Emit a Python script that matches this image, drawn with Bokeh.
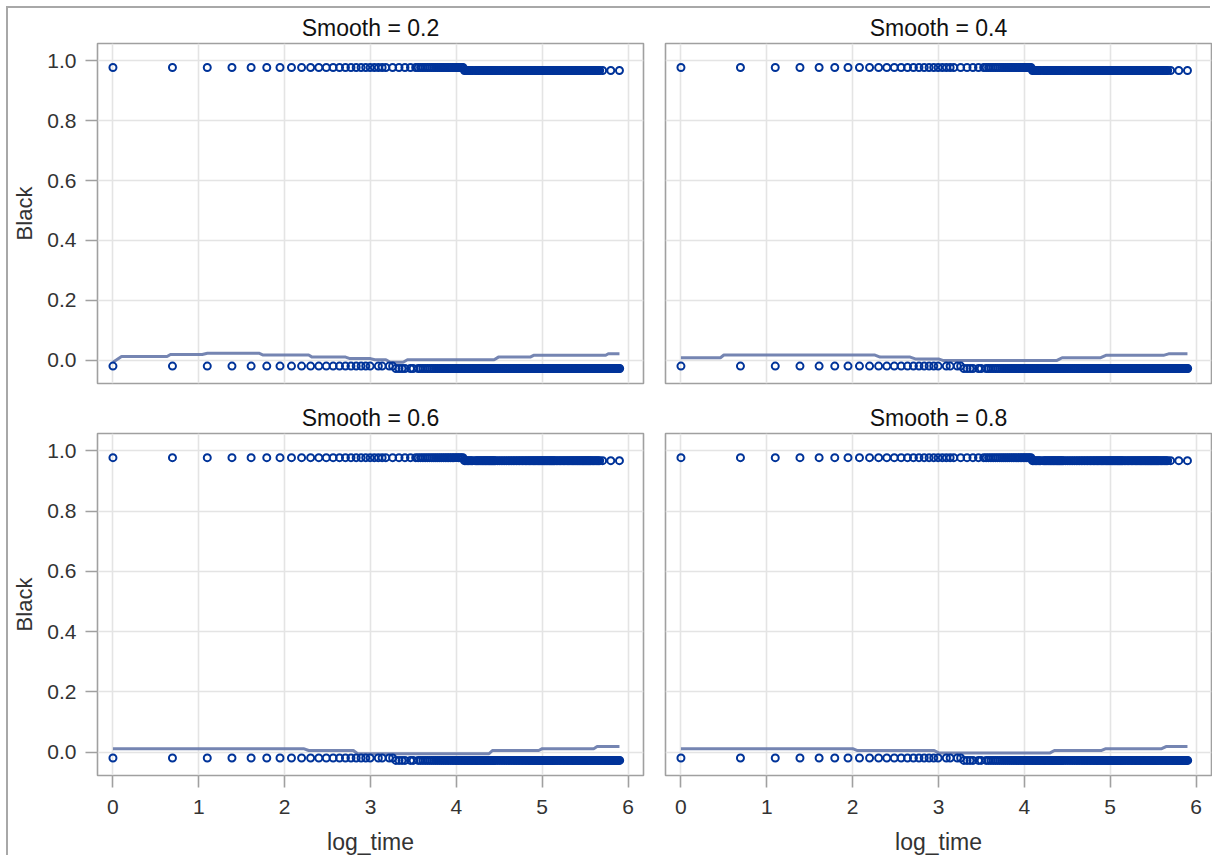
import numpy as np
from bokeh.plotting import figure
from bokeh.layouts import gridplot
from bokeh.models import FixedTicker, PrintfTickFormatter, Range1d
from bokeh.embed import file_html
from bokeh.resources import INLINE

# ---------------- data ----------------
# event days (x = log_time = log(day)); Black = 1 row and Black = 0 row
upper_early_days = [1, 2, 3, 4, 5, 6, 7, 8, 9, 10, 11, 12, 13, 14, 15, 16, 17, 18, 19, 20,
                    21, 22, 23, 24, 26, 28, 30, 32, 34, 35, 36, 37, 38, 39, 40, 41, 42, 43,
                    44, 45, 46, 47, 48, 49, 50, 51, 52, 53, 54, 55, 56, 57, 58, 59]
upper_early_y = 0.977
upper_late_days = [60, 61, 62, 63, 64, 65, 66, 68, 69, 70, 71, 72, 73, 74, 75, 76, 77, 78, 79,
                   80, 81, 82, 83, 84, 85, 86, 88, 90, 92, 94, 96, 98, 100, 102, 104, 106, 108,
                   110, 112, 114, 116, 118, 120, 122, 124, 126, 128, 130, 132, 134, 136, 138,
                   140, 142, 144, 146, 148, 150, 152, 154, 156, 158, 160, 162, 164, 166, 168,
                   170, 172, 175, 178, 181, 184, 187, 190, 193, 196, 199, 202, 205, 208, 211,
                   214, 217, 220, 223, 226, 229, 232, 235, 238, 241, 244, 247, 250, 253, 256,
                   259, 262, 266, 270, 274, 278, 282, 286, 290, 300, 330, 365]
upper_late_y = 0.967
lower_early_days = [1, 2, 3, 4, 5, 6, 7, 8, 9, 10, 11, 12, 13, 14, 15, 16, 17, 18, 19, 20,
                    22, 23, 25, 26]
lower_early_y = -0.019
lower_late_days = [27, 28, 29, 30, 32, 33, 35, 36, 37, 38, 39, 40, 41, 42, 43, 44, 45, 46, 47,
                   48, 49, 50, 51, 52, 53, 54, 55, 56, 57, 58, 59, 60, 61, 62, 63, 64, 65, 66,
                   67, 68, 69, 70, 71, 72, 73, 74, 75, 76, 77, 78, 79, 80, 81, 82, 83, 84, 85,
                   86, 88, 90, 92, 94, 96, 98, 100, 102, 104, 106, 108, 110, 112, 114, 116, 118,
                   120, 122, 124, 126, 128, 130, 132, 134, 136, 138, 140, 142, 144, 146, 148,
                   150, 152, 154, 156, 158, 160, 162, 164, 166, 168, 170, 172, 175, 178, 181,
                   184, 187, 190, 193, 196, 199, 202, 205, 208, 211, 214, 217, 220, 223, 226,
                   229, 232, 235, 238, 241, 244, 247, 250, 253, 256, 259, 262, 266, 270, 274,
                   278, 282, 286, 290, 294, 298, 302, 306, 310, 314, 318, 322, 326, 330, 334,
                   338, 342, 346, 350, 354, 358, 362, 366]
lower_late_y = -0.027

# loess fits for each smoothing parameter (log_time, fitted Black)
smooth_labels = ["Smooth = 0.2", "Smooth = 0.4", "Smooth = 0.6", "Smooth = 0.8"]
fit02_x = [0.00, 0.10, 0.63, 0.67, 1.04, 1.10, 1.70, 1.75, 2.28, 2.32, 2.71, 2.76, 3.00,
           3.05, 3.18, 3.23, 3.38, 3.43, 4.44, 4.49, 4.86, 4.90, 5.74, 5.77, 5.90]
fit02_y = [-0.006, 0.013, 0.013, 0.020, 0.020, 0.024, 0.024, 0.018, 0.018, 0.011, 0.011,
           0.006, 0.006, 0.002, 0.002, -0.006, -0.006, 0.002, 0.002, 0.011, 0.011, 0.017,
           0.017, 0.022, 0.022]
fit04_x = [0.00, 0.46, 0.50, 2.26, 2.32, 2.67, 2.73, 3.00, 3.05, 4.38, 4.44, 4.89, 4.95,
           5.62, 5.68, 5.90]
fit04_y = [0.009, 0.009, 0.018, 0.018, 0.011, 0.011, 0.005, 0.005, 0.000, 0.000, 0.009,
           0.009, 0.017, 0.017, 0.022, 0.022]
fit06_x = [0.00, 2.22, 2.28, 2.80, 2.85, 4.38, 4.42, 4.96, 5.00, 5.60, 5.64, 5.90]
fit06_y = [0.012, 0.012, 0.006, 0.006, -0.005, -0.005, 0.006, 0.006, 0.012, 0.012, 0.019,
           0.019]
fit08_x = [0.00, 2.00, 2.05, 2.95, 3.00, 4.30, 4.35, 4.90, 4.95, 5.60, 5.65, 5.90]
fit08_y = [0.012, 0.012, 0.006, 0.006, -0.002, -0.002, 0.006, 0.006, 0.012, 0.012, 0.019,
           0.019]

x_ticks = [0, 1, 2, 3, 4, 5, 6]
y_ticks = [0.0, 0.2, 0.4, 0.6, 0.8, 1.0]
y_label = "Black"
x_label = "log_time"

# ---------------- styling ----------------
FONT = "Liberation Sans"
MARK = "#003399"
FIT = "#6678aa"
GRID = "#e4e4e4"
FRAME = "#a0a0a0"
TEXT = "#333333"

pts_x = np.log(np.array(upper_early_days + upper_late_days + lower_early_days + lower_late_days, dtype=float))
pts_y = ([upper_early_y] * len(upper_early_days) + [upper_late_y] * len(upper_late_days)
         + [lower_early_y] * len(lower_early_days) + [lower_late_y] * len(lower_late_days))


def make_panel(title, fx, fy, show_y, show_x):
    p = figure(
        frame_width=546, frame_height=342 if show_x else 340,
        x_range=Range1d(-0.18, 6.18), y_range=Range1d(-0.077, 1.057),
        x_axis_location="below" if show_x else None,
        y_axis_location="left" if show_y else None,
        min_border_left=89 if show_y else 11,
        min_border_right=11 if show_y else 1,
        min_border_top=35, min_border_bottom=80 if show_x else 15,
        output_backend="svg", toolbar_location=None,
    )
    p.title.text = title
    p.title.align = "center"
    p.title.text_font = FONT
    p.title.text_font_size = "23px"
    p.title.text_font_style = "normal"
    p.title.text_color = "#111111"
    p.title.standoff = 5

    p.background_fill_color = "white"
    p.border_fill_color = "white"
    p.outline_line_color = FRAME
    p.outline_line_width = 1.6

    p.xgrid.ticker = FixedTicker(ticks=x_ticks)
    p.ygrid.ticker = FixedTicker(ticks=y_ticks)
    p.xgrid.grid_line_color = GRID
    p.ygrid.grid_line_color = GRID
    p.xgrid.grid_line_width = 1.6
    p.ygrid.grid_line_width = 1.6

    for ax in list(p.xaxis) + list(p.yaxis):
        ax.axis_line_color = None
        ax.major_tick_line_color = FRAME
        ax.major_tick_line_width = 1.6
        ax.major_tick_out = 12
        ax.major_tick_in = 0
        ax.minor_tick_line_color = None
        ax.major_label_text_font = FONT
        ax.major_label_text_font_size = "21px"
        ax.major_label_text_color = TEXT
        ax.axis_label_text_font = FONT
        ax.axis_label_text_font_size = "22px"
        ax.axis_label_text_font_style = "normal"
        ax.axis_label_text_color = TEXT
    if show_x:
        p.xaxis.ticker = FixedTicker(ticks=x_ticks)
        p.xaxis.axis_label = x_label
        p.xaxis.axis_label_text_font_size = "23px"
        p.xaxis.major_label_standoff = 12
        p.xaxis.axis_label_standoff = 12
    if show_y:
        p.yaxis.ticker = FixedTicker(ticks=y_ticks)
        p.yaxis.formatter = PrintfTickFormatter(format="%.1f")
        p.yaxis.axis_label = y_label
        p.yaxis.major_label_standoff = 9
        p.yaxis.axis_label_standoff = 7

    p.line(fx, fy, line_color=FIT, line_width=3, line_alpha=0.9)
    p.scatter(pts_x, pts_y, marker="circle", size=7, fill_color=None,
              line_color=MARK, line_width=2)
    return p


p1 = make_panel(smooth_labels[0], fit02_x, fit02_y, True, False)
p2 = make_panel(smooth_labels[1], fit04_x, fit04_y, False, False)
p3 = make_panel(smooth_labels[2], fit06_x, fit06_y, True, True)
p4 = make_panel(smooth_labels[3], fit08_x, fit08_y, False, True)

grid = gridplot([[p1, p2], [p3, p4]], toolbar_location=None)
grid.styles = {"margin-left": "8px", "margin-top": "8px",
               "box-shadow": "-2px -2px 0 0 #a8a8a8"}

open("out.html", "w").write(file_html(grid, INLINE))
